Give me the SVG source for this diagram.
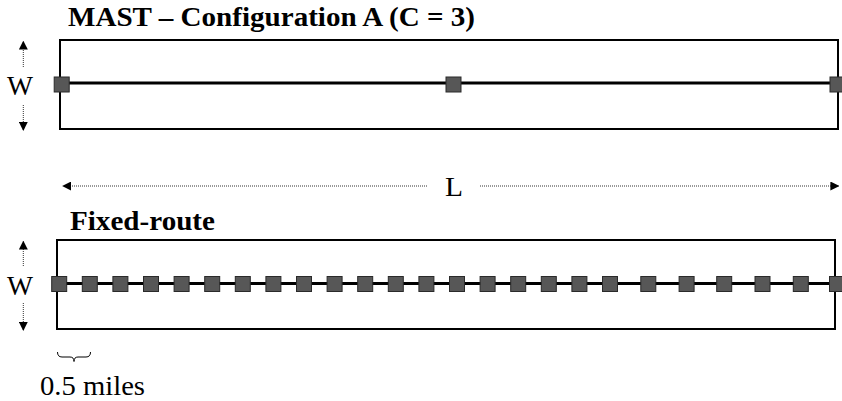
<svg xmlns="http://www.w3.org/2000/svg" width="842" height="401" viewBox="0 0 842 401">
  <defs>
    <style>
      .frame { fill: none; stroke: #000; stroke-width: 2; }
      .route { stroke: #000; stroke-width: 3.2; }
      .stop { fill: #575757; stroke: #2a2a2a; stroke-width: 1; }
      .dim { stroke: #333; stroke-width: 1; stroke-dasharray: 1 1; fill: none; }
      text { font-family: 'Liberation Serif', 'Times New Roman', 'DejaVu Serif', serif; fill: #000; }
      .title { font-weight: bold; font-size: 27px; }
      .label { font-size: 27px; }
    </style>
    <marker id="head" viewBox="0 0 10 10" refX="9" refY="5" markerWidth="9" markerHeight="9" markerUnits="userSpaceOnUse" orient="auto">
      <path d="M0,0 L10,5 L0,10 Z" fill="#000"/>
    </marker>
    <rect id="sq" x="-7.5" y="-7.5" width="15" height="15" class="stop"/>
  </defs>

  <!-- MAST configuration panel -->
  <g id="mast">
    <text class="title" x="68" y="26" font-family="Liberation Serif, serif" textLength="407" lengthAdjust="spacingAndGlyphs">MAST – Configuration A (C = 3)</text>
    <rect class="frame" x="60" y="40" width="778" height="89"/>
    <line class="route" x1="60" y1="83" x2="838" y2="83"/>
    <use href="#sq" x="61.7" y="84.5"/>
    <use href="#sq" x="453.5" y="84.5"/>
    <use href="#sq" x="837.5" y="84.5"/>
  </g>

  <!-- Fixed-route panel -->
  <g id="fixed-route">
    <text class="title" x="70" y="230" font-family="Liberation Serif, serif" textLength="145" lengthAdjust="spacingAndGlyphs">Fixed-route</text>
    <rect class="frame" x="57" y="240" width="778" height="89"/>
    <line class="route" x1="57" y1="283.5" x2="842" y2="283.5"/>
    <g id="stops">
      <use href="#sq" x="59.2" y="284"/>
      <use href="#sq" x="89.8" y="284"/>
      <use href="#sq" x="120.4" y="284"/>
      <use href="#sq" x="151" y="284"/>
      <use href="#sq" x="181.6" y="284"/>
      <use href="#sq" x="212.2" y="284"/>
      <use href="#sq" x="242.8" y="284"/>
      <use href="#sq" x="273.4" y="284"/>
      <use href="#sq" x="304" y="284"/>
      <use href="#sq" x="334.6" y="284"/>
      <use href="#sq" x="365.2" y="284"/>
      <use href="#sq" x="395.8" y="284"/>
      <use href="#sq" x="426.4" y="284"/>
      <use href="#sq" x="457" y="284"/>
      <use href="#sq" x="487.6" y="284"/>
      <use href="#sq" x="518.2" y="284"/>
      <use href="#sq" x="548.8" y="284"/>
      <use href="#sq" x="579.4" y="284"/>
      <use href="#sq" x="610" y="284"/>
      <use href="#sq" x="648.3" y="284"/>
      <use href="#sq" x="686.6" y="284"/>
      <use href="#sq" x="724.2" y="284"/>
      <use href="#sq" x="762.5" y="284"/>
      <use href="#sq" x="800.8" y="284"/>
      <use href="#sq" x="837" y="284"/>
    </g>
  </g>

  <!-- Dimension labels -->
  <g id="dim-labels">
    <text class="label" x="7" y="95" font-family="Liberation Serif, serif" textLength="26" lengthAdjust="spacingAndGlyphs">W</text>
    <text class="label" x="7" y="295" font-family="Liberation Serif, serif" textLength="26" lengthAdjust="spacingAndGlyphs">W</text>
    <text class="label" x="445" y="196" font-family="Liberation Serif, serif" textLength="18" lengthAdjust="spacingAndGlyphs">L</text>
    <text class="label" x="40" y="395" font-family="Liberation Serif, serif" textLength="105" lengthAdjust="spacingAndGlyphs">0.5 miles</text>
  </g>

  <!-- Dimension arrows and brace -->
  <g id="connectors">
    <line class="dim" x1="23.3" y1="67" x2="23.3" y2="41.5" marker-end="url(#head)"/>
    <line class="dim" x1="23.3" y1="105" x2="23.3" y2="130" marker-end="url(#head)"/>
    <line class="dim" x1="23.3" y1="266" x2="23.3" y2="241.5" marker-end="url(#head)"/>
    <line class="dim" x1="23.3" y1="303" x2="23.3" y2="330" marker-end="url(#head)"/>
    <line class="dim" x1="427" y1="186" x2="63" y2="186" marker-end="url(#head)"/>
    <line class="dim" x1="480" y1="186" x2="838.5" y2="186" marker-end="url(#head)"/>
    <path d="M57.5,352 Q57.5,357 62,357 L70,357 Q74,357 74,361.5 Q74,357 78,357 L86,357 Q90.5,357 90.5,352" fill="none" stroke="#000" stroke-width="1"/>
  </g>
</svg>
